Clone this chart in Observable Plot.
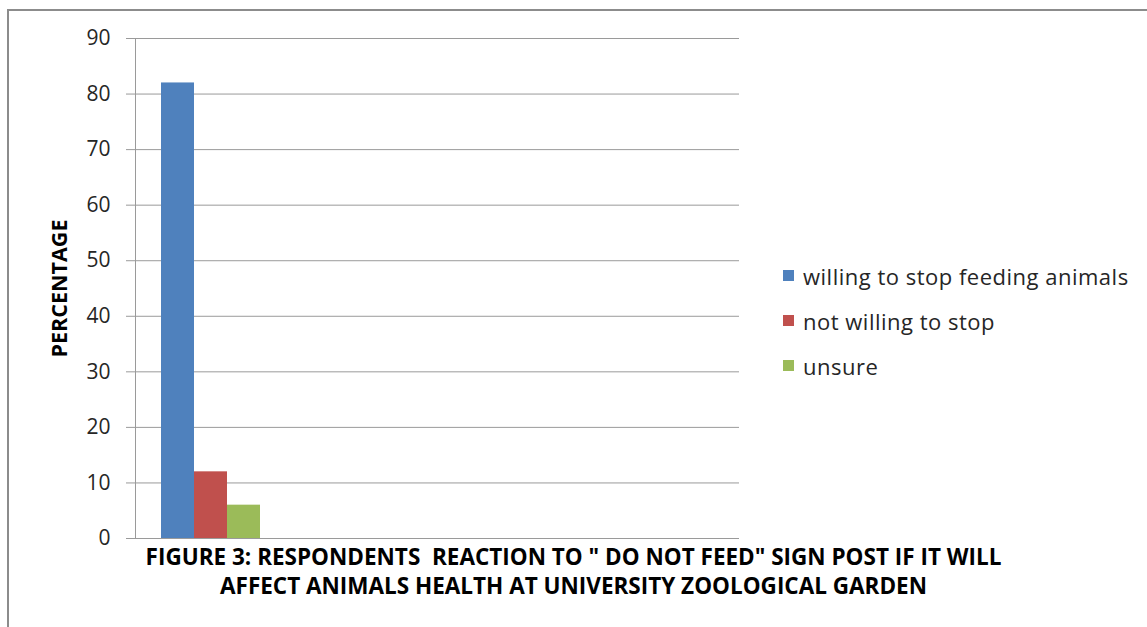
<!DOCTYPE html>
<html>
<head>
<meta charset="utf-8">
<script src="https://cdn.jsdelivr.net/npm/d3@7"></script>
<script src="https://cdn.jsdelivr.net/npm/@observablehq/plot@0.6"></script>
<style>
  html, body { margin: 0; padding: 0; background: #fff; }
  #page { position: relative; width: 1147px; height: 627px; overflow: hidden; }
  #border { position: absolute; left: 7px; top: 9px; width: 1145px; height: 620px;
            border-left: 2px solid #8c8c8c; border-top: 2px solid #8c8c8c; }
  #chart { position: absolute; left: 0; top: 0; }
  #chart g[aria-label="y-axis label"] text { font-weight: bold; font-size: 21.5px; fill: #000; }
  #legend { position: absolute; left: 783px; top: 253px; font-family: "Open Sans", sans-serif;
            font-size: 22px; letter-spacing: 0.5px; color: #262626; }
  #legend .row { display: flex; align-items: center; height: 45px; }
  #legend .sw { width: 11px; height: 11px; margin-right: 9px; }
  #title { position: absolute; left: 0; top: 542px; width: 1147px; text-align: center;
           font-family: "Open Sans", sans-serif; font-weight: bold; font-size: 22.5px; line-height: 29px;
           color: #000; white-space: pre; }
</style>
</head>
<body>
<div id="page">
  <div id="border"></div>
  <div id="chart"></div>
  <div id="legend"></div>
  <div id="title"></div>
</div>
<script>
// Category slots on the horizontal axis; only the first one holds responses.
const categories = ["1", "2", "3", "4"];
// Response options (series) and their share of respondents per category, in percent.
const seriesNames = ["willing to stop feeding animals", "not willing to stop", "unsure"];
const willingToStop = [82, null, null, null];
const notWillingToStop = [12, null, null, null];
const unsure = [6, null, null, null];
const seriesColors = ["#4F81BD", "#C0504D", "#9BBB59"];
const yTicks = [0, 10, 20, 30, 40, 50, 60, 70, 80, 90];
const titleLines = [
  "FIGURE 3: RESPONDENTS  REACTION TO \" DO NOT FEED\" SIGN POST IF IT WILL",
  "AFFECT ANIMALS HEALTH AT UNIVERSITY ZOOLOGICAL GARDEN"
];

const seriesValues = [willingToStop, notWillingToStop, unsure];
const rows = categories.flatMap((c, j) =>
  seriesNames.map((s, i) => ({category: c, series: s, value: seriesValues[i][j]}))
);

const chart = Plot.plot({
  width: 1147,
  height: 560,
  marginTop: 38,
  marginBottom: 22,
  marginLeft: 134,
  marginRight: 407,
  style: {fontFamily: "'Open Sans', sans-serif", fontSize: "21px", color: "#262626", background: "transparent"},
  fx: {domain: categories, padding: 0, axis: null},
  x: {domain: seriesNames, paddingInner: 0, paddingOuter: 0.75, axis: null},
  y: {domain: [0, 90]},
  color: {domain: seriesNames, range: seriesColors},
  marks: [
    Plot.gridY(yTicks, {stroke: "#9a9a9a", strokeOpacity: 1, strokeWidth: 1}),
    Plot.frame({anchor: "left", facetAnchor: "left", stroke: "#9a9a9a"}),
    Plot.axisY(yTicks, {
      tickSize: 9, tickPadding: 16, stroke: "#9a9a9a", fill: "#262626",
      label: "PERCENTAGE", labelAnchor: "center", labelArrow: "none", labelOffset: 84
    }),
    Plot.barY(rows, {fx: "category", x: "series", y: "value", fill: "series"})
  ]
});
document.getElementById("chart").appendChild(chart);

// Legend built from the same series names and colours.
const legend = document.getElementById("legend");
seriesNames.forEach((s, i) => {
  const row = document.createElement("div");
  row.className = "row";
  const sw = document.createElement("div");
  sw.className = "sw";
  sw.style.background = seriesColors[i];
  const label = document.createElement("span");
  label.textContent = s;
  row.append(sw, label);
  legend.appendChild(row);
});

document.getElementById("title").textContent = titleLines.join("\n");
</script>
</body>
</html>
